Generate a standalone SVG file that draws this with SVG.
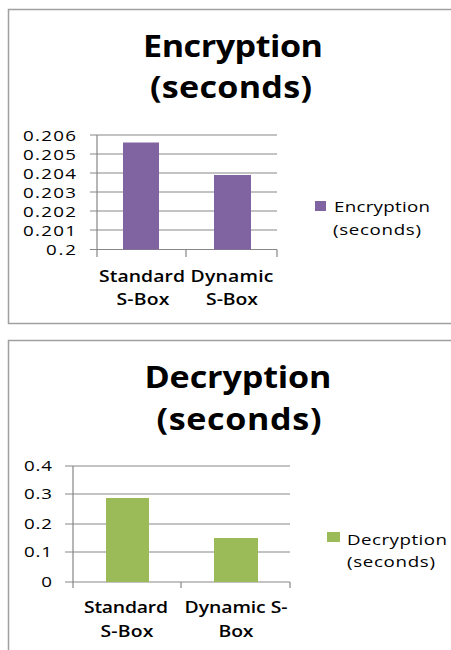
<svg xmlns="http://www.w3.org/2000/svg" width="451" height="650" viewBox="0 0 451 650">
<style>
.frame{fill:#fff;stroke:#a0a0a0;stroke-width:1.5}
.grid{stroke:#878787;stroke-width:1.2;fill:none}
.title{font-family:"Open Sans",sans-serif;font-weight:bold;font-size:31px;fill:#000;text-anchor:middle}
.lab{font-family:"Open Sans",sans-serif;font-size:15px;fill:#000}
.ylab{font-family:"Open Sans",sans-serif;font-size:15px;fill:#000;text-anchor:end}
.xlab{font-family:"Open Sans",sans-serif;font-size:15.5px;font-weight:600;fill:#000;text-anchor:middle}
.enc{fill:#8064a2}
.dec{fill:#9bbb59}
</style>
<rect width="451" height="650" fill="#fff"/>
<g id="enc-chart">
<rect class="frame" x="8.5" y="9.5" width="450" height="314"/>
<text class="title" transform="translate(233 57) scale(1.1 1)" textLength="163.6" lengthAdjust="spacing">Encryption</text>
<text class="title" transform="translate(231 98) scale(1.1 1)" textLength="147.3" lengthAdjust="spacing">(seconds)</text>
<g class="grid">
<path d="M90 135H277M90 154H277M90 173H277M90 192H277M90 211H277M90 230H277M90 249.5H277"/>
<path d="M97 135V257M186 249.5V257M277 249.5V257"/>
</g>
<rect class="enc" x="123" y="142.5" width="36" height="107"/>
<rect class="enc" x="214" y="175" width="37" height="74.5"/>
<g class="ylab">
<text transform="translate(76 141) scale(1.25 1)" textLength="42.4" lengthAdjust="spacing">0.206</text>
<text transform="translate(76 160) scale(1.25 1)" textLength="42.4" lengthAdjust="spacing">0.205</text>
<text transform="translate(76 179) scale(1.25 1)" textLength="42.4" lengthAdjust="spacing">0.204</text>
<text transform="translate(76 198) scale(1.25 1)" textLength="42.4" lengthAdjust="spacing">0.203</text>
<text transform="translate(76 217) scale(1.25 1)" textLength="42.4" lengthAdjust="spacing">0.202</text>
<text transform="translate(76 236) scale(1.25 1)" textLength="42.4" lengthAdjust="spacing">0.201</text>
<text transform="translate(76 255) scale(1.25 1)" textLength="24" lengthAdjust="spacing">0.2</text>
</g>
<g class="xlab">
<text transform="translate(142 282) scale(1.25 1)" textLength="68.8" lengthAdjust="spacing">Standard</text>
<text transform="translate(143 305) scale(1.25 1)" textLength="42.4" lengthAdjust="spacing">S-Box</text>
<text transform="translate(232 282) scale(1.25 1)" textLength="66.4" lengthAdjust="spacing">Dynamic</text>
<text transform="translate(232 305) scale(1.25 1)" textLength="41.6" lengthAdjust="spacing">S-Box</text>
</g>
<rect class="enc" x="315" y="201" width="11" height="10"/>
<text class="lab" transform="translate(334 212) scale(1.25 1)" textLength="76.8" lengthAdjust="spacing">Encryption</text>
<text class="lab" transform="translate(333 235) scale(1.25 1)" textLength="70.4" lengthAdjust="spacing">(seconds)</text>
</g>
<g id="dec-chart">
<rect class="frame" x="8.5" y="340.5" width="450" height="320"/>
<text class="title" transform="translate(238 388) scale(1.1 1)" textLength="170" lengthAdjust="spacing">Decryption</text>
<text class="title" transform="translate(239 430) scale(1.1 1)" textLength="150" lengthAdjust="spacing">(seconds)</text>
<g class="grid">
<path d="M65 466H290M65 494H290M65 524H290M65 552H290M65 582H290"/>
<path d="M73 466V588M181 582V588M290 582V588"/>
</g>
<rect class="dec" x="106" y="498" width="43" height="84"/>
<rect class="dec" x="214" y="538" width="44" height="44"/>
<g class="ylab">
<text transform="translate(52 471) scale(1.25 1)" textLength="22.4" lengthAdjust="spacing">0.4</text>
<text transform="translate(52 499) scale(1.25 1)" textLength="22.4" lengthAdjust="spacing">0.3</text>
<text transform="translate(52 529) scale(1.25 1)" textLength="22.4" lengthAdjust="spacing">0.2</text>
<text transform="translate(52 557) scale(1.25 1)" textLength="22.4" lengthAdjust="spacing">0.1</text>
<text transform="translate(52 587) scale(1.25 1)">0</text>
</g>
<g class="xlab">
<text transform="translate(126 613) scale(1.25 1)" textLength="67.2" lengthAdjust="spacing">Standard</text>
<text transform="translate(127 637) scale(1.25 1)" textLength="42.4" lengthAdjust="spacing">S-Box</text>
<text transform="translate(236 613) scale(1.25 1)" textLength="82.4" lengthAdjust="spacing">Dynamic S-</text>
<text transform="translate(236 637) scale(1.25 1)" textLength="28" lengthAdjust="spacing">Box</text>
</g>
<rect class="dec" x="327" y="532" width="13" height="10"/>
<text class="lab" transform="translate(347 545) scale(1.25 1)" textLength="80" lengthAdjust="spacing">Decryption</text>
<text class="lab" transform="translate(347 567) scale(1.25 1)" textLength="70.4" lengthAdjust="spacing">(seconds)</text>
</g>
</svg>
